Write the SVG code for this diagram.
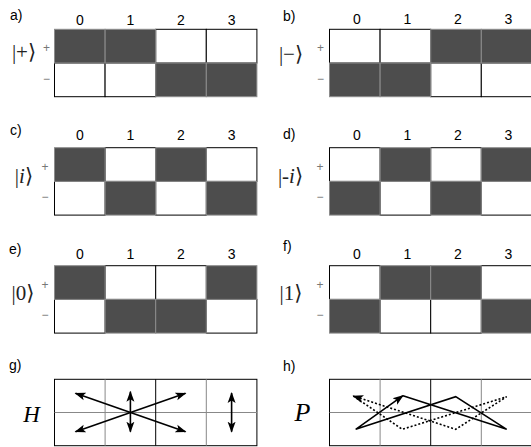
<svg xmlns="http://www.w3.org/2000/svg" width="531" height="447" viewBox="0 0 531 447">
<style>
.w{fill:#fff;stroke:#000;stroke-width:1}
.d{fill:#4d4d4d;stroke:#8c8c8c;stroke-width:1}
.lbl{font-family:"Liberation Sans",Arial,sans-serif;font-size:14px;fill:#000}
.hd{font-family:"Liberation Sans",Arial,sans-serif;font-size:14px;fill:#000;text-anchor:middle}
.ket{font-family:"Liberation Serif","DejaVu Serif",serif;font-size:21px;fill:#222;text-anchor:middle}
.pm{font-family:"Liberation Sans",Arial,sans-serif;font-size:12px;fill:#777;text-anchor:middle}
.op{font-family:"Liberation Serif","DejaVu Serif",serif;font-style:italic;fill:#000;text-anchor:middle}
.gb{fill:#fff;stroke:#000;stroke-width:1}
.gg{stroke:#888;stroke-width:1;fill:none}
.gk{stroke:#000;stroke-width:1;fill:none}
.arr{stroke:#000;stroke-width:1.6;fill:none}
.dot{stroke:#000;stroke-width:1.6;fill:none;stroke-dasharray:2,2}
</style>
<defs>
<marker id="ah" markerUnits="userSpaceOnUse" markerWidth="12" markerHeight="10" refX="10" refY="4" orient="auto-start-reverse" viewBox="0 0 12 8">
<path d="M0,0 L11,4 L0,8 L2.5,4 z" fill="#000" stroke="none"/>
</marker>
</defs>

<g id="panel-a">
<text class="lbl" x="10" y="19.5">a)</text>
<text class="hd" x="79.8" y="24.5">0</text><text class="hd" x="130.4" y="24.5">1</text><text class="hd" x="181" y="24.5">2</text><text class="hd" x="231.6" y="24.5">3</text>
<rect class="w" x="155.7" y="29.3" width="50.6" height="33.7"/><rect class="w" x="206.3" y="29.3" width="50.6" height="33.7"/>
<rect class="w" x="54.5" y="63" width="50.6" height="33.7"/><rect class="w" x="105.1" y="63" width="50.6" height="33.7"/>
<rect class="d" x="54.5" y="29.3" width="50.6" height="33.7"/><rect class="d" x="105.1" y="29.3" width="50.6" height="33.7"/>
<rect class="d" x="155.7" y="63" width="50.6" height="33.7"/><rect class="d" x="206.3" y="63" width="50.6" height="33.7"/>
<text class="ket" x="24" y="58.5">|+⟩</text>
<text class="pm" x="46.5" y="52">+</text><text class="pm" x="46.5" y="82.5">−</text>
</g>

<g id="panel-b">
<text class="lbl" x="283" y="20.5">b)</text>
<text class="hd" x="357" y="24">0</text><text class="hd" x="407.5" y="24">1</text><text class="hd" x="458" y="24">2</text><text class="hd" x="508.5" y="24">3</text>
<rect class="w" x="329.5" y="29.3" width="50.6" height="33.7"/><rect class="w" x="380.1" y="29.3" width="50.6" height="33.7"/>
<rect class="w" x="430.7" y="63" width="50.6" height="33.7"/><rect class="w" x="481.3" y="63" width="50.6" height="33.7"/>
<rect class="d" x="430.7" y="29.3" width="50.6" height="33.7"/><rect class="d" x="481.3" y="29.3" width="50.6" height="33.7"/>
<rect class="d" x="329.5" y="63" width="50.6" height="33.7"/><rect class="d" x="380.1" y="63" width="50.6" height="33.7"/>
<text class="ket" x="291" y="60.5">|−⟩</text>
<text class="pm" x="320.5" y="52">+</text><text class="pm" x="320.5" y="82.5">−</text>
</g>

<g id="panel-c">
<text class="lbl" x="10" y="135">c)</text>
<text class="hd" x="79.8" y="140">0</text><text class="hd" x="130.4" y="140">1</text><text class="hd" x="181" y="140">2</text><text class="hd" x="231.6" y="140">3</text>
<rect class="w" x="105.1" y="147.7" width="50.6" height="33.7"/><rect class="w" x="206.3" y="147.7" width="50.6" height="33.7"/>
<rect class="w" x="54.5" y="181.4" width="50.6" height="33.7"/><rect class="w" x="155.7" y="181.4" width="50.6" height="33.7"/>
<rect class="d" x="54.5" y="147.7" width="50.6" height="33.7"/><rect class="d" x="155.7" y="147.7" width="50.6" height="33.7"/>
<rect class="d" x="105.1" y="181.4" width="50.6" height="33.7"/><rect class="d" x="206.3" y="181.4" width="50.6" height="33.7"/>
<text class="ket" x="24" y="182.5">|<tspan font-style="italic">i</tspan>⟩</text>
<text class="pm" x="45" y="171">+</text><text class="pm" x="45" y="201">−</text>
</g>

<g id="panel-d">
<text class="lbl" x="283" y="138.5">d)</text>
<text class="hd" x="357" y="140">0</text><text class="hd" x="407.5" y="140">1</text><text class="hd" x="458" y="140">2</text><text class="hd" x="508.5" y="140">3</text>
<rect class="w" x="329.5" y="147.7" width="50.6" height="33.7"/><rect class="w" x="430.7" y="147.7" width="50.6" height="33.7"/>
<rect class="w" x="380.1" y="181.4" width="50.6" height="33.7"/><rect class="w" x="481.3" y="181.4" width="50.6" height="33.7"/>
<rect class="d" x="380.1" y="147.7" width="50.6" height="33.7"/><rect class="d" x="481.3" y="147.7" width="50.6" height="33.7"/>
<rect class="d" x="329.5" y="181.4" width="50.6" height="33.7"/><rect class="d" x="430.7" y="181.4" width="50.6" height="33.7"/>
<text class="ket" x="290.5" y="182.5">|-<tspan font-style="italic">i</tspan>⟩</text>
<text class="pm" x="320" y="171">+</text><text class="pm" x="320" y="201">−</text>
</g>

<g id="panel-e">
<text class="lbl" x="9" y="253.5">e)</text>
<text class="hd" x="79.8" y="258.5">0</text><text class="hd" x="130.4" y="258.5">1</text><text class="hd" x="181" y="258.5">2</text><text class="hd" x="231.6" y="258.5">3</text>
<rect class="w" x="105.1" y="265.7" width="50.6" height="33.7"/><rect class="w" x="155.7" y="265.7" width="50.6" height="33.7"/>
<rect class="w" x="54.5" y="299.4" width="50.6" height="33.7"/><rect class="w" x="206.3" y="299.4" width="50.6" height="33.7"/>
<rect class="d" x="54.5" y="265.7" width="50.6" height="33.7"/><rect class="d" x="206.3" y="265.7" width="50.6" height="33.7"/>
<rect class="d" x="105.1" y="299.4" width="50.6" height="33.7"/><rect class="d" x="155.7" y="299.4" width="50.6" height="33.7"/>
<text class="ket" x="23" y="299.5">|0⟩</text>
<text class="pm" x="45" y="288.5">+</text><text class="pm" x="45" y="319">−</text>
</g>

<g id="panel-f">
<text class="lbl" x="283" y="250.5">f)</text>
<text class="hd" x="357" y="259">0</text><text class="hd" x="407.5" y="259">1</text><text class="hd" x="458" y="259">2</text><text class="hd" x="508.5" y="259">3</text>
<rect class="w" x="329.5" y="265.7" width="50.6" height="33.7"/><rect class="w" x="481.3" y="265.7" width="50.6" height="33.7"/>
<rect class="w" x="380.1" y="299.4" width="50.6" height="33.7"/><rect class="w" x="430.7" y="299.4" width="50.6" height="33.7"/>
<rect class="d" x="380.1" y="265.7" width="50.6" height="33.7"/><rect class="d" x="430.7" y="265.7" width="50.6" height="33.7"/>
<rect class="d" x="329.5" y="299.4" width="50.6" height="33.7"/><rect class="d" x="481.3" y="299.4" width="50.6" height="33.7"/>
<text class="ket" x="291" y="299.5">|1⟩</text>
<text class="pm" x="320" y="288.5">+</text><text class="pm" x="320" y="319">−</text>
</g>

<g id="panel-g">
<text class="lbl" x="9" y="370">g)</text>
<rect class="gb" x="54.5" y="379.3" width="202.4" height="66.4"/>
<path class="gg" d="M54.5,412.5 H256.9 M105.1,379.3 V445.7 M206.3,379.3 V445.7"/>
<path class="gk" d="M155.7,379.3 V445.7"/>
<text class="op" x="31.5" y="421.5" font-size="23">H</text>
</g>

<g id="panel-h">
<text class="lbl" x="283" y="371">h)</text>
<rect class="gb" x="329.5" y="379.3" width="202.4" height="66.4"/>
<path class="gg" d="M329.5,412.5 H531.9 M380.1,379.3 V445.7 M481.3,379.3 V445.7"/>
<path class="gk" d="M430.7,379.3 V445.7"/>
<text class="op" x="302.5" y="420.5" font-size="26">P</text>
</g>

<g id="connectors">
<line class="arr" x1="75.5" y1="393.3" x2="185.5" y2="431.7" marker-start="url(#ah)" marker-end="url(#ah)"/>
<line class="arr" x1="75.5" y1="431.7" x2="185.5" y2="393.3" marker-start="url(#ah)" marker-end="url(#ah)"/>
<line class="arr" x1="130.4" y1="391.7" x2="130.4" y2="431.7" marker-start="url(#ah)" marker-end="url(#ah)"/>
<line class="arr" x1="231.6" y1="393" x2="231.6" y2="431.7" marker-start="url(#ah)" marker-end="url(#ah)"/>
<path class="arr" d="M403,395.7 L506.7,429.3 L455.7,396.7 L355.7,429.3 L403,395.7" marker-end="url(#ah)"/>
<path class="dot" d="M353.3,396 L402.3,429.3 L506.7,396.7 L455.7,429.3 L353.3,396" marker-end="url(#ah)"/>
</g>
</svg>
